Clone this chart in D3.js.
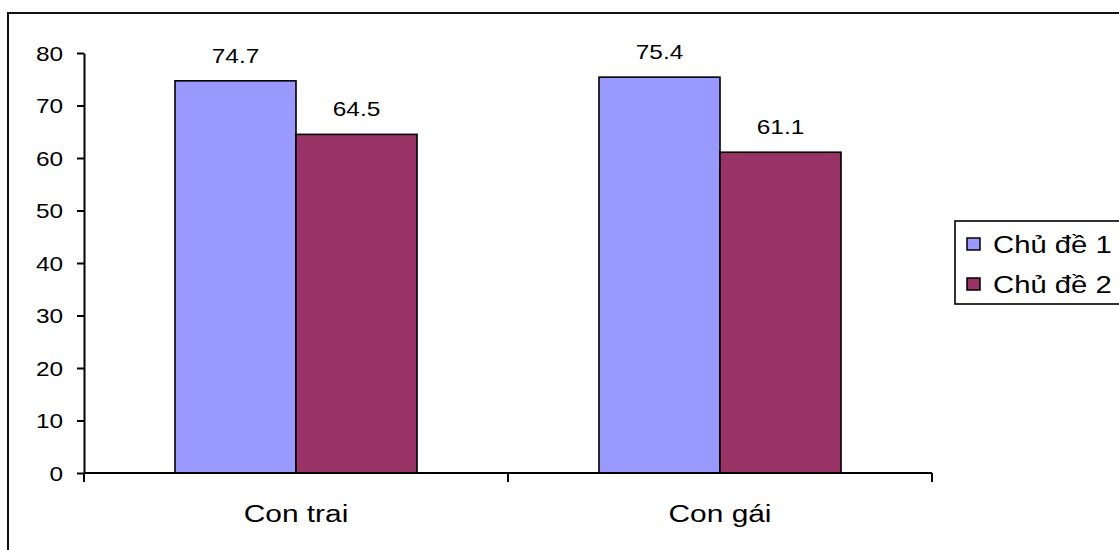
<!DOCTYPE html>
<html><head><meta charset="utf-8">
<script src="https://cdn.jsdelivr.net/npm/d3@7/dist/d3.min.js"></script>
<style>body{margin:0;background:#fff}svg{display:block}text{font-family:"Liberation Sans",Arial,sans-serif;fill:#000}</style>
</head><body>
<svg id="c" width="1119" height="550"></svg>
<script>
const categories = ["Con trai", "Con gái"];
const seriesNames = ["Chủ đề 1", "Chủ đề 2"];
const chuDe1 = [74.7, 75.4];
const chuDe2 = [64.5, 61.1];
const yTicks = [0, 10, 20, 30, 40, 50, 60, 70, 80];
const colors = ["#9999FF", "#993366"];

const SX = 1.22;
const svg = d3.select("#c");
const values = [chuDe1, chuDe2];

// outer frame (extends beyond right/bottom edges)
svg.append("rect").attr("x", 8).attr("y", 13).attr("width", 1200).attr("height", 600)
  .attr("fill", "none").attr("stroke", "#111").attr("stroke-width", 2);

const y = d3.scaleLinear().domain([0, 80]).range([473, 53]);
const x0 = d3.scaleBand().domain(categories).range([84, 932]).padding(0);
const bw = x0.bandwidth();
const x1 = d3.scaleBand().domain(seriesNames).range([bw * 0.2146, bw * 0.7854]).padding(0);

// bars
categories.forEach((c, ci) => {
  seriesNames.forEach((s, si) => {
    const v = values[si][ci];
    const bx = x0(c) + x1(s);
    svg.append("rect").attr("x", bx).attr("y", y(v)).attr("width", x1.bandwidth())
      .attr("height", y(0) - y(v)).attr("fill", colors[si]).attr("stroke", "#000").attr("stroke-width", 1.6);
    svg.append("text").attr("transform", `translate(${bx + x1.bandwidth() / 2},${y(v) - 18}) scale(${SX},1)`)
      .attr("text-anchor", "middle").attr("font-size", 20).text(v.toFixed(1));
  });
});

// y axis
const gy = svg.append("g").attr("transform", "translate(84,0)")
  .call(d3.axisLeft(y).tickValues(yTicks).tickSize(7).tickSizeOuter(0).tickFormat(d3.format("d")));
gy.select(".domain").attr("stroke", "#000").attr("stroke-width", 2);
gy.selectAll(".tick line").attr("stroke", "#000").attr("stroke-width", 2);
gy.selectAll(".tick text").attr("font-size", 20).attr("dy", "0.35em")
  .attr("transform", `scale(${SX},1)`).attr("x", -21 / SX);

// x axis
svg.append("line").attr("x1", 84).attr("x2", 932).attr("y1", y(0)).attr("y2", y(0))
  .attr("stroke", "#000").attr("stroke-width", 2);
const bounds = categories.map(c => x0(c)).concat([x0(categories[categories.length - 1]) + bw]);
svg.selectAll(".xt").data(bounds).enter().append("line")
  .attr("x1", d => d).attr("x2", d => d).attr("y1", y(0)).attr("y2", y(0) + 9)
  .attr("stroke", "#000").attr("stroke-width", 2);
categories.forEach(c => {
  svg.append("text").attr("transform", `translate(${x0(c) + bw / 2},522) scale(${SX},1)`)
    .attr("text-anchor", "middle").attr("font-size", 24.5).text(c);
});

// legend
svg.append("rect").attr("x", 955).attr("y", 221).attr("width", 200).attr("height", 83)
  .attr("fill", "#fff").attr("stroke", "#000").attr("stroke-width", 1.6);
seriesNames.forEach((s, i) => {
  const cy = 244 + i * 40;
  svg.append("rect").attr("x", 967).attr("y", cy - 6).attr("width", 13).attr("height", 12)
    .attr("fill", colors[i]).attr("stroke", "#000").attr("stroke-width", 1.5);
  svg.append("text").attr("transform", `translate(993,${cy + 9}) scale(${SX},1)`)
    .attr("font-size", 24).text(s);
});
</script>
</body></html>
